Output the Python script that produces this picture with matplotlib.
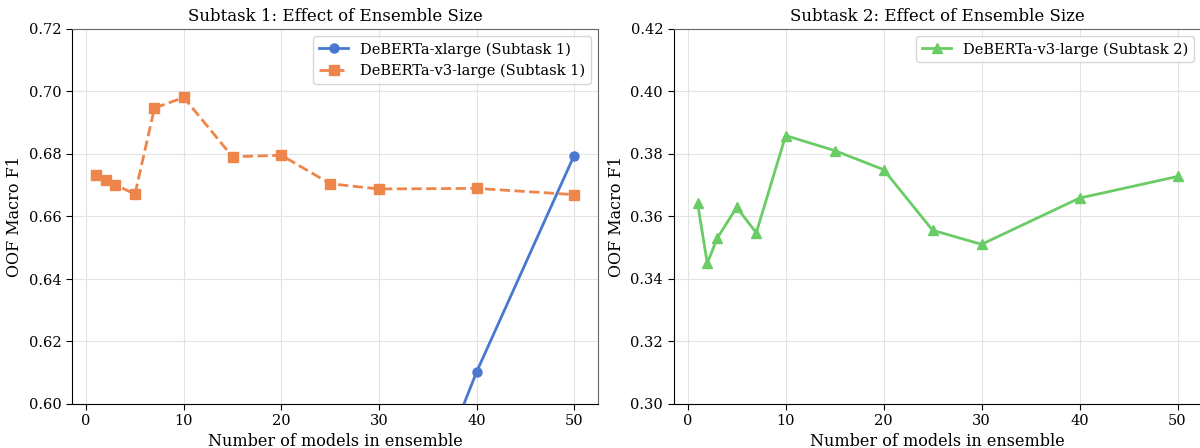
import matplotlib
matplotlib.use("Agg")
import matplotlib.pyplot as plt

plt.rcParams['font.family'] = ['DejaVu Serif']

# Subtask 1
x_xlarge = [30, 40, 50]
f1_xlarge = [0.531, 0.6102, 0.6795]

x_v3_s1 = [1, 2, 3, 5, 7, 10, 15, 20, 25, 30, 40, 50]
f1_v3_s1 = [0.6733, 0.6717, 0.6702, 0.6671, 0.6947, 0.6981,
            0.6791, 0.6796, 0.6705, 0.6688, 0.6690, 0.6670]

# Subtask 2
x_v3_s2 = [1, 2, 3, 5, 7, 10, 15, 20, 25, 30, 40, 50]
f1_v3_s2 = [0.3644, 0.3450, 0.3530, 0.3629, 0.3548, 0.3859,
            0.3811, 0.3750, 0.3556, 0.3511, 0.3659, 0.3728]

xticks = [0, 10, 20, 30, 40, 50]
blue, orange, green = '#4878d0', '#ee854a', '#6acc64'

fig = plt.figure(figsize=(12, 4.48), dpi=100)
ax1 = fig.add_axes([72/1200, 44/448, 526/1200, 375/448])
ax2 = fig.add_axes([673.5/1200, 44/448, 528/1200, 375/448])


def style(ax):
    ax.grid(True, color='#e3e3e3', linewidth=0.8)
    ax.set_axisbelow(True)
    for s in ['left', 'bottom']:
        ax.spines[s].set_color('black')
    for s in ['top', 'right']:
        ax.spines[s].set_color('#666666')
    ax.tick_params(labelsize=10.5, length=4, color='black')
    ax.set_xticks(xticks)
    ax.set_xlim(-1.45, 52.45)
    ax.set_xlabel('Number of models in ensemble', fontsize=11.5, labelpad=3)
    ax.set_ylabel('OOF Macro F1', fontsize=11.5)


ax1.plot(x_xlarge, f1_xlarge, '-o', color=blue, lw=2, ms=6.5,
         label='DeBERTa-xlarge (Subtask 1)')
ax1.plot(x_v3_s1, f1_v3_s1, '--s', color=orange, lw=2, ms=6.5,
         label='DeBERTa-v3-large (Subtask 1)')
style(ax1)
ax1.set_ylim(0.60, 0.72)
ax1.set_title('Subtask 1: Effect of Ensemble Size', fontsize=12)
ax1.legend(loc='upper right', fontsize=10.5, edgecolor='#cccccc')

ax2.plot(x_v3_s2, f1_v3_s2, '-^', color=green, lw=2, ms=7,
         label='DeBERTa-v3-large (Subtask 2)')
style(ax2)
ax2.set_ylim(0.30, 0.42)
ax2.set_title('Subtask 2: Effect of Ensemble Size', fontsize=12)
ax2.legend(loc='upper right', fontsize=10.5, edgecolor='#cccccc')

fig.savefig('out.png', dpi=100)
